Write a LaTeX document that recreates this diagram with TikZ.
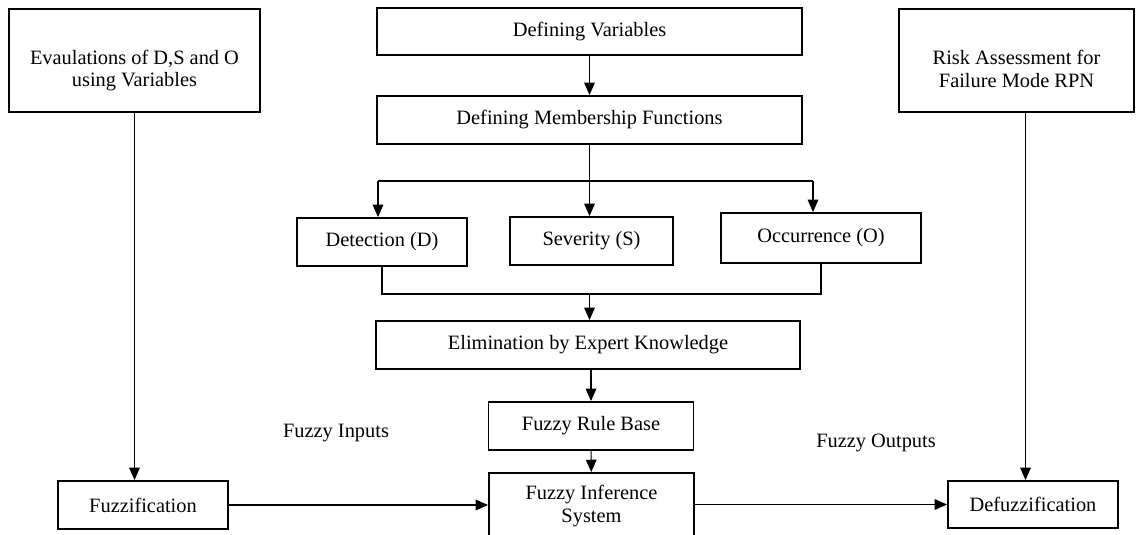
\documentclass[tikz,border=0pt]{standalone}
\usepackage{fontspec}
\setmainfont{Liberation Serif}
\usepackage{tikz}
\usetikzlibrary{arrows.meta,positioning,calc}

\tikzset{
  stepbox/.style={draw, line width=1.1pt, inner sep=2pt, align=center},
  arr/.style={-{Triangle[width=6pt,length=7pt]}, line width=0.6pt},
  link/.style={line width=0.6pt},
}

\begin{document}
\begin{tikzpicture}[x=0.2mm, y=-0.2mm, every node/.style={font=\fontsize{11.6}{13}\selectfont}]
 \useasboundingbox (0,0) rectangle (1143,534);

 \node[stepbox, minimum width=50.2mm, minimum height=20.6mm,
       label={[align=center, yshift=-2mm]center:Evaulations of D,S and O \\ using Variables}] (eval) at (134.5,60.5) {};
 \node[stepbox, minimum width=85mm, minimum height=9.4mm] (defvar) at (589.5,31.5) {Defining Variables};
 \node[stepbox, minimum width=47mm, minimum height=20.6mm,
       label={[align=center, yshift=-1.6mm]center:Risk Assessment for \\ Failure Mode RPN}] (risk) at (1016.5,60.5) {};
 \node[stepbox, minimum width=85mm, minimum height=9.6mm] (member) at (589.5,120) {Defining Membership Functions};

 \node[stepbox, minimum width=34mm, minimum height=9.6mm] (detect) at (382,242) {Detection (D)};
 \node[stepbox, minimum width=32.6mm, minimum height=9.6mm] (sever) at (591.5,241) {Severity (S)};
 \node[stepbox, minimum width=40mm, minimum height=10mm] (occur) at (821,238) {Occurrence (O)};

 \node[stepbox, minimum width=84.8mm, minimum height=9.6mm] (elim) at (588,345) {Elimination by Expert Knowledge};
 \node[stepbox, minimum width=41mm, minimum height=9.6mm] (rules) at (591,426) {Fuzzy Rule Base};
 \node[stepbox, minimum width=41mm, minimum height=13.2mm] (infer) at (591.5,506) {Fuzzy Inference \\ System};

 \node[stepbox, minimum width=34mm, minimum height=9.6mm] (fuzz) at (143,505) {Fuzzification};
 \node[stepbox, minimum width=34mm, minimum height=9.4mm] (defuzz) at (1033,504.5) {Defuzzification};

 \node (inputs) at (336,433) {Fuzzy Inputs};
 \node (outputs) at (876,443) {Fuzzy Outputs};

 \coordinate (split) at (0,181);
 \coordinate (merge) at (0,294);

 % top chain
 \draw[arr] (defvar) -- (member);
 \draw[arr] (member.south) -- (member.south |- sever.north);
 \draw[link] ([xshift=-0.8mm]detect.north |- split) -- ([xshift=-1.6mm]occur.north |- split);
 \draw[arr] ([xshift=-0.8mm]detect.north |- split) -- ([xshift=-0.8mm]detect.north);
 \draw[arr] ([xshift=-1.6mm]occur.north |- split) -- ([xshift=-1.6mm]occur.north);

 % merge into elimination
 \draw[link] (detect.south) -- (detect.south |- merge) -- (occur.south |- merge) -- (occur.south);
 \draw[arr] (member.south |- merge) -- (member.south |- elim.north);
 \draw[arr] (rules.north |- elim.south) -- (rules.north);
 \draw[arr] (rules) -- (infer);

 % side columns
 \draw[arr] (eval.south) -- (eval.south |- fuzz.north);
 \draw[arr] ([xshift=1.8mm]risk.south) -- ([xshift=1.8mm]risk.south |- defuzz.north);
 \draw[arr] (fuzz.east) -- (fuzz.east -| infer.west);
 \draw[arr] (infer.east |- defuzz.west) -- (defuzz.west);

\end{tikzpicture}
\end{document}
